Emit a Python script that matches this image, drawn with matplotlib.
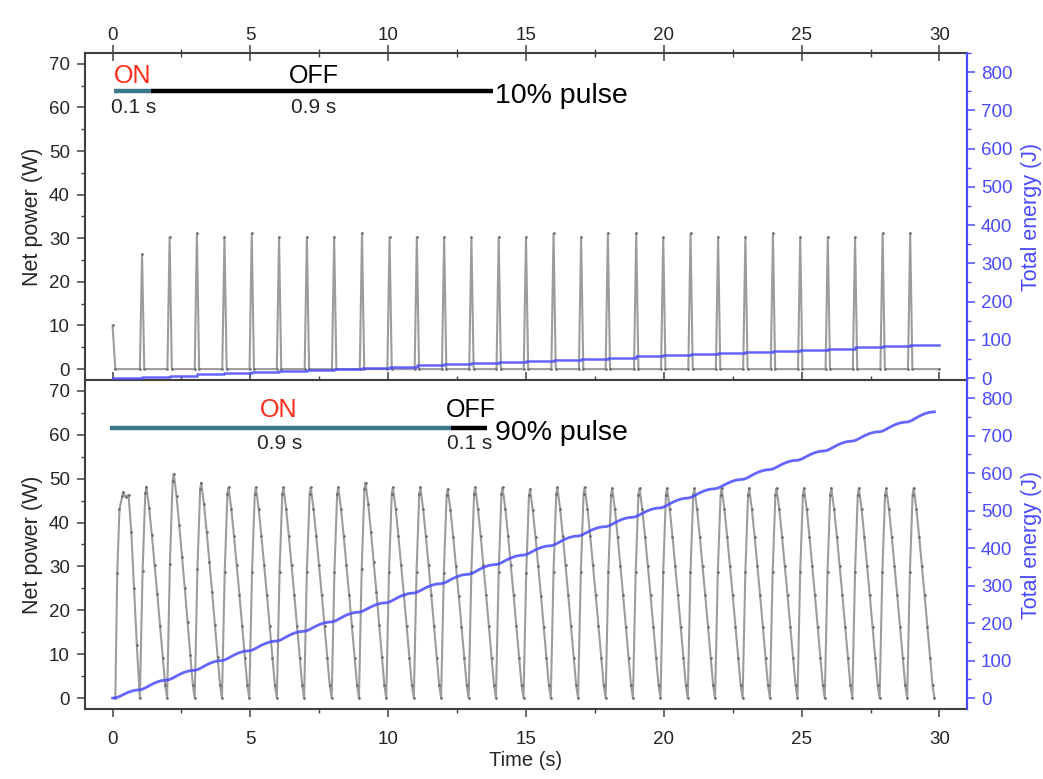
import matplotlib
matplotlib.use("Agg")
import matplotlib.pyplot as plt
from matplotlib import font_manager
from matplotlib.ticker import MultipleLocator
import numpy as np

# ---------------- data ----------------
# 10% pulse: spike times (s) and peak net power (W)
pulse10_times = [0.0, 1.07, 2.07, 3.06, 4.06, 5.05, 6.04, 7.05, 8.04, 9.05, 10.05,
                 11.04, 12.03, 13.02, 14.01, 15.0, 16.0, 17.0, 17.97, 19.0, 19.98,
                 20.97, 21.97, 22.96, 23.96, 24.95, 25.95, 26.94, 27.94, 28.94]
pulse10_peaks = [10.0, 26.3, 30.2, 31.1, 30.2, 31.1, 30.2, 30.2, 30.2, 31.1, 30.2,
                 30.2, 30.2, 30.2, 30.2, 30.2, 31.1, 30.2, 31.1, 31.1, 30.2,
                 31.1, 30.2, 30.2, 31.1, 30.2, 30.2, 30.2, 31.1, 31.1]
# cumulative energy (J) after each 10% pulse
energy10 = [0.5, 3.4, 6.4, 9.4, 12.3, 15.3, 18.2, 21.2, 24.1, 27.1, 30.0,
            33.0, 35.9, 38.9, 41.8, 44.8, 47.7, 50.7, 53.6, 56.6, 59.5,
            62.5, 65.4, 68.4, 71.3, 74.3, 77.2, 80.2, 83.1, 86.1]

# 90% pulse: cycle start times (power minima), peaks per cycle, energy at minima
cycle90_starts = [0.1, 0.99, 1.98, 2.98, 3.97, 4.96, 5.96, 6.95, 7.95, 8.94, 9.93,
                  10.93, 11.92, 12.92, 13.91, 14.91, 15.90, 16.89, 17.89, 18.88, 19.88,
                  20.87, 21.86, 22.86, 23.85, 24.85, 25.84, 26.84, 27.83, 28.83, 29.82]
cycle90_peaks = [47.0, 48.2, 51.1, 49.1, 48.0, 48.0, 48.0, 48.0, 48.0, 49.1,
                 48.0, 48.0, 47.6, 48.0, 48.0, 47.6, 48.0, 48.0, 47.8, 47.8,
                 47.8, 47.8, 47.8, 47.8, 47.8, 47.8, 47.8, 47.8, 47.8, 47.8]
energy90 = [1, 22, 48, 74, 100, 126, 152, 178, 203, 229, 254,
            280, 305, 330, 356, 381, 406, 432, 457, 482, 507,
            533, 558, 583, 609, 634, 659, 685, 710, 736, 763]
# first (irregular) cycle of the 90% trace
first90_t = [0.1, 0.17, 0.25, 0.35, 0.39, 0.47, 0.58, 0.68, 0.78, 0.88]
first90_p = [0.0, 28.5, 43.0, 46.0, 47.0, 45.9, 46.3, 37.9, 25.0, 12.0]
# waveform shape of one regular cycle (phase -> fraction of peak)
shape_phase = [0.0, 0.1, 0.2, 0.24, 0.34, 0.44, 0.54, 0.64, 0.74, 0.84, 0.93]
shape_frac = [0.0, 0.6, 0.97, 1.0, 0.9, 0.77, 0.63, 0.49, 0.34, 0.19, 0.06]
# cumulative energy shape within one cycle
eshape_phase = [0.0, 0.1, 0.2, 0.3, 0.4, 0.5, 0.6, 0.7, 0.8, 0.9]
eshape_frac = [0.0, 0.07, 0.2, 0.36, 0.51, 0.65, 0.77, 0.87, 0.94, 0.985]

x_ticks = [0, 5, 10, 15, 20, 25, 30]

# ---------------- build traces ----------------
t10, p10 = [], []
for i, (tp, pk) in enumerate(zip(pulse10_times, pulse10_peaks)):
    if i == 0:
        t10 += [tp, tp + 0.1]
        p10 += [pk, 0.0]
    else:
        t10 += [tp - 0.08, tp, tp + 0.08]
        p10 += [0.0, pk, 0.0]
t10.append(30.0)
p10.append(0.0)
te10 = [0.0] + pulse10_times + [30.0]
e10 = [0.0] + energy10 + [energy10[-1]]

t90 = list(first90_t)
p90 = list(first90_p)
for k in range(1, len(cycle90_peaks)):
    s, e = cycle90_starts[k], cycle90_starts[k + 1]
    for ph, fr in zip(shape_phase, shape_frac):
        t90.append(s + ph * (e - s))
        p90.append(fr * cycle90_peaks[k])
t90.append(cycle90_starts[-1])
p90.append(0.0)
te90, e90 = [0.0], [0.0]
for k in range(len(cycle90_starts) - 1):
    s, e = cycle90_starts[k], cycle90_starts[k + 1]
    for ph, fr in zip(eshape_phase, eshape_frac):
        te90.append(s + ph * (e - s))
        e90.append(energy90[k] + fr * (energy90[k + 1] - energy90[k]))
te90.append(cycle90_starts[-1])
e90.append(energy90[-1])

# ---------------- style ----------------
names = {f.name for f in font_manager.fontManager.ttflist}
base_font = 'Liberation Sans' if 'Liberation Sans' in names else 'DejaVu Sans'
narrow_font = 'Liberation Sans Narrow' if 'Liberation Sans Narrow' in names else base_font
plt.rcParams['font.family'] = [base_font, 'DejaVu Sans']

BLUE = '#4a4aff'
GRAY = '#9c9c9c'
DOT = '#6a6a6a'
SPINE = '#404040'
TEAL = '#3b7788'
RED = '#ff2a1a'

fig = plt.figure(figsize=(10.43, 7.79), dpi=100)
ax1 = fig.add_axes([0.0815, 0.5122, 0.8456, 0.4198])
ax2 = fig.add_axes([0.0815, 0.0899, 0.8456, 0.4223])

def style_left(ax):
    ax.set_xlim(-1, 31)
    ax.set_ylim(-2.5, 72.5)
    ax.yaxis.set_major_locator(MultipleLocator(10))
    ax.yaxis.set_minor_locator(MultipleLocator(5))
    ax.xaxis.set_major_locator(MultipleLocator(5))
    ax.xaxis.set_minor_locator(MultipleLocator(2.5))
    for sp in ax.spines.values():
        sp.set_color(SPINE)
        sp.set_linewidth(1.5)
    ax.tick_params(axis='y', which='major', direction='out', length=6, width=1.1,
                   colors=SPINE, labelcolor='#262626', labelsize=13.5, pad=5)
    ax.tick_params(axis='y', which='minor', direction='out', length=3, width=1.0, colors=SPINE)
    ax.set_ylabel('Net power (W)', fontsize=15.5, color='#262626', labelpad=4)

def style_right(axr, ylim):
    axr.set_ylim(*ylim)
    axr.yaxis.set_major_locator(MultipleLocator(100))
    axr.yaxis.set_minor_locator(MultipleLocator(50))
    for name in ['left', 'top', 'bottom']:
        axr.spines[name].set_visible(False)
    axr.spines['right'].set_color(BLUE)
    axr.spines['right'].set_linewidth(1.5)
    axr.tick_params(axis='y', which='major', direction='out', length=6, width=1.1,
                    colors=BLUE, labelsize=13.5, pad=4)
    axr.tick_params(axis='y', which='minor', direction='out', length=3, width=1.0, colors=BLUE)
    axr.set_ylabel('Total energy (J)', fontsize=15.5, color=BLUE, labelpad=6)

style_left(ax1)
style_left(ax2)

ax1.set_xticks(x_ticks)
ax1.tick_params(axis='x', which='both', top=True, labeltop=True, bottom=True,
                labelbottom=False, direction='inout', colors=SPINE, labelcolor='#262626')
ax1.tick_params(axis='x', which='major', length=11, width=1.1, labelsize=13.5, pad=1)
ax1.tick_params(axis='x', which='minor', length=5.5, width=1.0)
for lab in ax1.get_xticklabels():
    lab.set_fontfamily(narrow_font)

ax2.set_xticks(x_ticks)
ax2.tick_params(axis='x', which='both', top=False, bottom=True, direction='out',
                colors=SPINE, labelcolor='#262626')
ax2.tick_params(axis='x', which='major', length=6, width=1.1, labelsize=13.5, pad=10)
ax2.tick_params(axis='x', which='minor', length=3, width=1.0)
for lab in ax2.get_xticklabels():
    lab.set_fontfamily(narrow_font)
ax2.set_xlabel('Time (s)', fontsize=14.5, color='#262626', family=narrow_font, labelpad=2)

ax1.plot(t10, p10, color=GRAY, lw=1.5, zorder=2)
ax1.plot(t10, p10, ls='none', marker='o', ms=0.9, color=DOT, zorder=3)
ax2.plot(t90, p90, color=GRAY, lw=1.5, zorder=2)
ax2.plot(t90, p90, ls='none', marker='o', ms=0.9, color=DOT, zorder=3)

ax1r = ax1.twinx()
style_right(ax1r, (-5, 850))
ax1r.plot(te10, e10, color=BLUE, lw=1.8, drawstyle='steps-post', alpha=0.85)

ax2r = ax2.twinx()
style_right(ax2r, (-29, 848))
ax2r.plot(te90, e90, color=BLUE, lw=2.0, alpha=0.85)

ax1.plot([0.05, 1.41], [63.7, 63.7], color=TEAL, lw=3.2, solid_capstyle='butt')
ax1.plot([1.41, 13.79], [63.7, 63.7], color='black', lw=3.2, solid_capstyle='butt')
ax1.text(0.74, 67.3, 'ON', color=RED, fontsize=18, ha='center', va='center')
ax1.text(7.29, 67.3, 'OFF', color='black', fontsize=18, ha='center', va='center')
ax1.text(0.76, 60.0, '0.1 s', color='#262626', fontsize=15, ha='center', va='center')
ax1.text(7.29, 60.0, '0.9 s', color='#262626', fontsize=15, ha='center', va='center')
ax1.text(13.88, 62.7, '10% pulse', color='black', fontsize=20.5, ha='left', va='center')

ax2.plot([-0.1, 12.27], [61.6, 61.6], color=TEAL, lw=3.2, solid_capstyle='butt')
ax2.plot([12.27, 13.6], [61.6, 61.6], color='black', lw=3.2, solid_capstyle='butt')
ax2.text(6.01, 65.7, 'ON', color=RED, fontsize=18, ha='center', va='center')
ax2.text(13.0, 65.7, 'OFF', color='black', fontsize=18, ha='center', va='center')
ax2.text(6.05, 58.1, '0.9 s', color='#262626', fontsize=15, ha='center', va='center')
ax2.text(12.97, 58.1, '0.1 s', color='#262626', fontsize=15, ha='center', va='center')
ax2.text(13.88, 60.4, '90% pulse', color='black', fontsize=20.5, ha='left', va='center')

fig.savefig('out.png', dpi=100)
